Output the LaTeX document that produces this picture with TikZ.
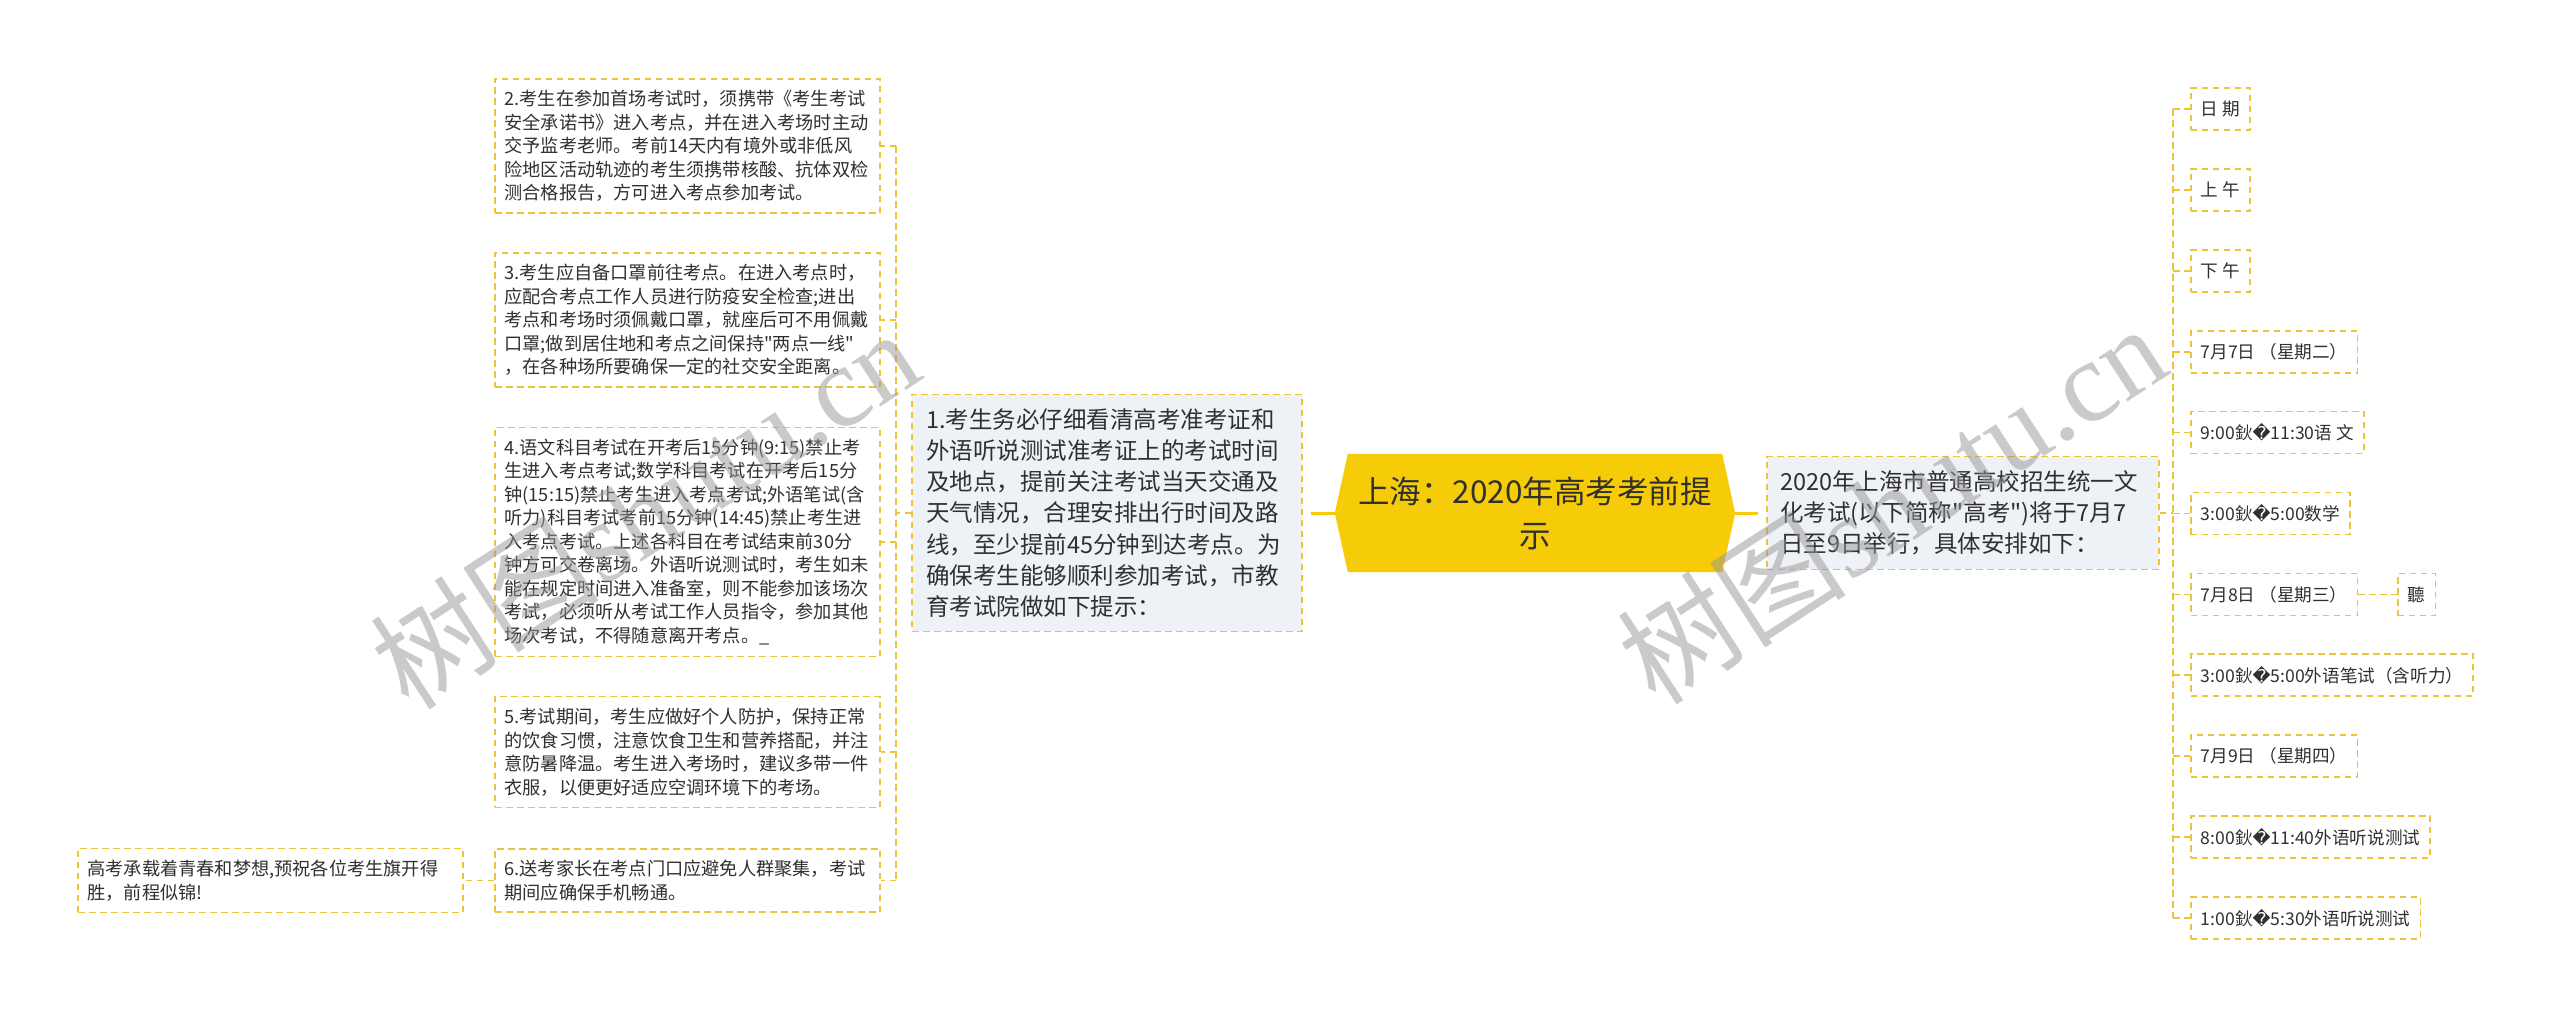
\documentclass[tikz,border=0pt]{standalone}
\usepackage{fontspec}
\setmainfont{Noto Sans CJK SC}[Ligatures=TeXOff]
\newfontfamily\repfont{DejaVu Sans}
\newfontfamily\wmfont{Liberation Serif}
\usetikzlibrary{backgrounds}

\definecolor{linegold}{RGB}{236,196,58}
\definecolor{hubgold}{RGB}{246,204,8}
\definecolor{palebox}{RGB}{238,241,245}
\definecolor{inktext}{RGB}{48,48,48}
\definecolor{wmgray}{RGB}{150,150,150}

\newcommand{\qmark}{{\repfont\symbol{"FFFD}}}

\tikzset{
    link/.style={linegold, line width=1.6pt, dash pattern=on 6.5pt off 4.5pt},
    mainlink/.style={hubgold, line width=3pt},
    tipbox/.style={draw=linegold, line width=1.6pt, dash pattern=on 6.5pt off 4.5pt, fill=white, text=inktext,
        font=\fontsize{18.2}{23.5}\selectfont, align=left, text width=366pt, inner xsep=9.5pt, inner ysep=11.5pt},
    infobox/.style={tipbox, fill=palebox, font=\fontsize{23.5}{31.2}\selectfont, inner xsep=13pt, inner ysep=14pt},
    timebox/.style={draw=linegold, line width=1.6pt, dash pattern=on 6.5pt off 4.5pt, fill=white, text=inktext,
        font=\fontsize{17.6}{20}\selectfont, anchor=west, inner xsep=10pt, inner ysep=0pt, minimum height=42pt},
    hub/.style={text=inktext, font=\fontsize{31.5}{44}\selectfont, align=center, minimum width=374pt, minimum height=118pt},
    wmark/.style={wmgray, opacity=0.5, font=\fontsize{115}{115}\selectfont, anchor=base, rotate=33}
}

\begin{document}
\begin{tikzpicture}[x=1pt, y=-1pt]
    \useasboundingbox (0,0) rectangle (2560,1017);

        % centre and the two main branches
        \node[hub] (hub) at (1535,513) {上海：2020年高考考前提\\示};
        \node[infobox, text width=362pt, inner xsep=14pt] (n1) at (1107,513) {1.考生务必仔细看清高考准考证和\\外语听说测试准考证上的考试时间\\及地点，提前关注考试当天交通及\\天气情况，合理安排出行时间及路\\线，至少提前45分钟到达考点。为\\确保考生能够顺利参加考试，市教\\育考试院做如下提示：};
        \node[infobox] (n2) at (1963,513) {2020年上海市普通高校招生统一文\\化考试(以下简称"高考")将于7月7\\日至9日举行，具体安排如下：};

        \draw[mainlink, shorten >=8pt] ([xshift=-13pt]hub.west) -- (n1.east);
        \draw[mainlink, shorten >=8pt] ([xshift=13pt]hub.east) -- (n2.west);

        % tips on the left
        \node[tipbox] (tip2) at (687.5,146) {2.考生在参加首场考试时，须携带《考生考试\\安全承诺书》进入考点，并在进入考场时主动\\交予监考老师。考前14天内有境外或非低风\\险地区活动轨迹的考生须携带核酸、抗体双检\\测合格报告，方可进入考点参加考试。};
        \node[tipbox] (tip3) at (687.5,320) {3.考生应自备口罩前往考点。在进入考点时，\\应配合考点工作人员进行防疫安全检查;进出\\考点和考场时须佩戴口罩，就座后可不用佩戴\\口罩;做到居住地和考点之间保持"两点一线"\\，在各种场所要确保一定的社交安全距离。};
        \node[tipbox] (tip4) at (687.5,542) {4.语文科目考试在开考后15分钟(9:15)禁止考\\生进入考点考试;数学科目考试在开考后15分\\钟(15:15)禁止考生进入考点考试;外语笔试(含\\听力)科目考试考前15分钟(14:45)禁止考生进\\入考点考试。上述各科目在考试结束前30分\\钟方可交卷离场。外语听说测试时，考生如未\\能在规定时间进入准备室，则不能参加该场次\\考试，必须听从考试工作人员指令，参加其他\\场次考试，不得随意离开考点。\_};
        \node[tipbox] (tip5) at (687.5,752) {5.考试期间，考生应做好个人防护，保持正常\\的饮食习惯，注意饮食卫生和营养搭配，并注\\意防暑降温。考生进入考场时，建议多带一件\\衣服，以便更好适应空调环境下的考场。};
        \node[tipbox] (tip6) at (687.5,880.5) {6.送考家长在考点门口应避免人群聚集，考试\\期间应确保手机畅通。};
        \node[tipbox] (wish) at (270.5,880.5) {高考承载着青春和梦想,预祝各位考生旗开得\\胜，前程似锦!};

        \coordinate (ltrunk) at (896,513);
        \draw[link] (n1.west) -- (ltrunk);
        \draw[link] (ltrunk |- tip2.east) -- (ltrunk |- tip6.east);
        \draw[link] (ltrunk |- tip2.east) -- (tip2.east);
        \draw[link] (ltrunk |- tip3.east) -- (tip3.east);
        \draw[link] (ltrunk |- tip4.east) -- (tip4.east);
        \draw[link] (ltrunk |- tip5.east) -- (tip5.east);
        \draw[link] (ltrunk |- tip6.east) -- (tip6.east);
        \draw[link] (tip6.west) -- (wish.east);

        % timetable on the right
        \node[timebox] (day) at (2190,109) {日 期};
        \node[timebox] (morning) at (2190,190) {上 午};
        \node[timebox] (afternoon) at (2190,271) {下 午};
        \node[timebox] (jul7) at (2190,352) {7月7日 （星期二）};
        \node[timebox] (chinese) at (2190,432.5) {9:00鈥\qmark 11:30语 文};
        \node[timebox] (maths) at (2190,513.5) {3:00鈥\qmark 5:00数学};
        \node[timebox] (jul8) at (2190,594.5) {7月8日 （星期三）};
        \node[timebox] (jul8note) at (2397,594.5) {聽};
        \node[timebox] (written) at (2190,675) {3:00鈥\qmark 5:00外语笔试（含听力）};
        \node[timebox] (jul9) at (2190,756) {7月9日 （星期四）};
        \node[timebox] (oralam) at (2190,837) {8:00鈥\qmark 11:40外语听说测试};
        \node[timebox] (oralpm) at (2190,918) {1:00鈥\qmark 5:30外语听说测试};

        \coordinate (rtrunk) at (2173,513);
        \draw[link] (n2.east) -- (rtrunk);
        \draw[link] (rtrunk |- day.west) -- (rtrunk |- oralpm.west);
        \draw[link] (rtrunk |- day.west) -- (day.west);
        \draw[link] (rtrunk |- morning.west) -- (morning.west);
        \draw[link] (rtrunk |- afternoon.west) -- (afternoon.west);
        \draw[link] (rtrunk |- jul7.west) -- (jul7.west);
        \draw[link] (rtrunk |- chinese.west) -- (chinese.west);
        \draw[link] (rtrunk |- maths.west) -- (maths.west);
        \draw[link] (rtrunk |- jul8.west) -- (jul8.west);
        \draw[link] (rtrunk |- written.west) -- (written.west);
        \draw[link] (rtrunk |- jul9.west) -- (jul9.west);
        \draw[link] (rtrunk |- oralam.west) -- (oralam.west);
        \draw[link] (rtrunk |- oralpm.west) -- (oralpm.west);
        \draw[link] (jul8.east) -- (jul8note.west);

        % watermark
        \node[wmark] (wmleft) at (668,545) {树图{\wmfont shutu.cn}};
        \node[wmark] (wmright) at (1915,540) {树图{\wmfont shutu.cn}};

    \begin{scope}[on background layer]
        \fill[white] (0,0) rectangle (2560,1017);
        \fill[hubgold] (hub.north west) -- (hub.north east) -- ([xshift=13pt]hub.east) -- (hub.south east)
            -- (hub.south west) -- ([xshift=-13pt]hub.west) -- cycle;
    \end{scope}
\end{tikzpicture}
\end{document}
